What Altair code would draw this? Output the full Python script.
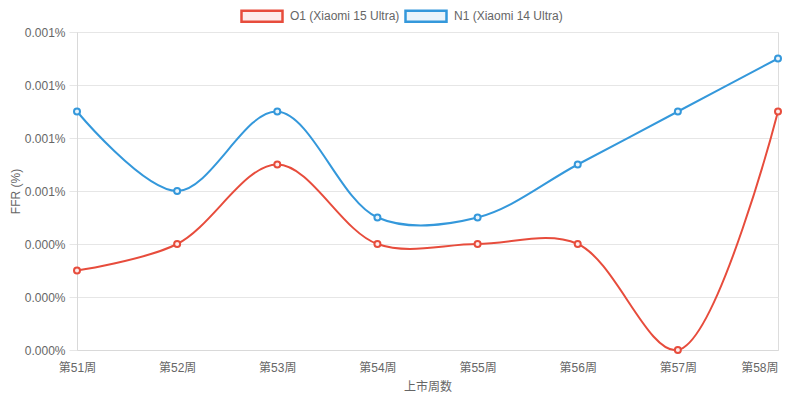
import altair as alt
import pandas as pd

weeks = ["第51周", "第52周", "第53周", "第54周", "第55周", "第56周", "第57周", "第58周"]
o1 = [0.0003, 0.0004, 0.0007, 0.0004, 0.0004, 0.0004, 0.0000, 0.0009]
n1 = [0.0009, 0.0006, 0.0009, 0.0005, 0.0005, 0.0007, 0.0009, 0.0011]
series = ["O1 (Xiaomi 15 Ultra)", "N1 (Xiaomi 14 Ultra)"]
colors = ["#e74c3c", "#3498db"]
light_colors = ["#fdeceb", "#eaf4fb"]
y_ticks = [0, 0.0002, 0.0004, 0.0006, 0.0008, 0.0010, 0.0012]

rows = []
for s, vals in zip(series, [o1, n1]):
    for w, v in zip(weeks, vals):
        rows.append({"week": w, "value": v, "series": s})
df = pd.DataFrame(rows)

FONT = "Liberation Sans, Noto Sans CJK SC, sans-serif"

x = alt.X("week:N", sort=weeks, scale=alt.Scale(type="point", padding=0),
          axis=alt.Axis(title="上市周数", labelAngle=0, grid=False, ticks=False,
                        domainColor="#d9d9d9", labelColor="#666", titleColor="#666",
                        labelFontSize=12, titleFontSize=12, labelFont=FONT, titleFont=FONT,
                        labelAlign={"condition": {"test": f"datum.value == '{weeks[-1]}'",
                                                  "value": "right"},
                                    "value": "center"},
                        labelPadding=12, titlePadding=8, titleFontWeight="normal"))
y = alt.Y("value:Q", scale=alt.Scale(domain=[0, 0.0012], nice=False),
          axis=alt.Axis(title="FFR (%)", values=y_ticks,
                        labelExpr="format(datum.value, '.3f') + '%'",
                        grid=True, gridColor="#e6e6e6", tickColor="#e6e6e6", tickSize=8,
                        domainColor="#d9d9d9", labelColor="#666", titleColor="#666",
                        labelFontSize=12, titleFontSize=12, labelFont=FONT, titleFont=FONT,
                        labelPadding=4, titleX=-62, titleY=159, titleAngle=270,
                        titleBaseline="middle", titleAlign="center",
                        titleFontWeight="normal"))

legend = alt.Legend(title=None, orient="none", legendX=163, legendY=-38,
                    direction="horizontal",
                    symbolType="M-1,-0.27L1,-0.27L1,0.27L-1,0.27Z",
                    symbolSize=1681, symbolStrokeWidth=2.5,
                    labelFontSize=12, labelColor="#666", labelFont=FONT,
                    labelOffset=6, columnPadding=0)

stroke = alt.Stroke("series:N", sort=series,
                    scale=alt.Scale(domain=series, range=colors), legend=legend)
fill = alt.Fill("series:N", sort=series,
                scale=alt.Scale(domain=series, range=light_colors), legend=legend)

lines = alt.Chart(df).mark_line(interpolate="catmull-rom", strokeWidth=2).encode(
    x=x, y=y, stroke=stroke)
points = alt.Chart(df).mark_point(size=36, strokeWidth=2, opacity=1, fillOpacity=1).encode(
    x=x, y=y, stroke=stroke, fill=fill)

chart = (lines + points).properties(
    width=701, height=318,
    autosize=alt.AutoSizeParams(type="none"),
    padding={"left": 69, "top": 24, "right": 14, "bottom": 43},
).configure_view(stroke=None).configure(background="#ffffff")

chart.save("out.html", embed_options={"renderer": "svg", "actions": False})
